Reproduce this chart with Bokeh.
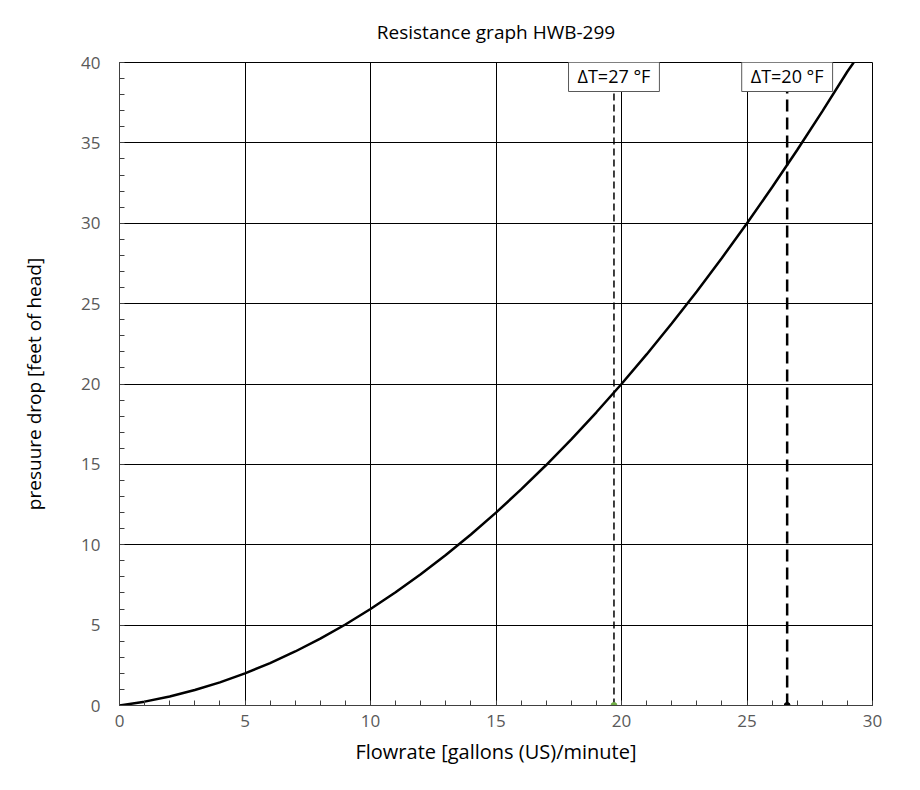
from bokeh.plotting import figure
from bokeh.models import SingleIntervalTicker, Label, Range1d
from bokeh.embed import file_html
from bokeh.resources import INLINE

# Resistance curve
flow = [0, 1, 2, 3, 4, 5, 6, 7, 8, 9, 10, 11, 12, 13, 14, 15, 16, 17, 18, 19,
        20, 21, 22, 23, 24, 25, 26, 27, 28, 29, 29.25]
pressure = [0, 0.24, 0.56, 0.96, 1.44, 2.0, 2.64, 3.36, 4.16, 5.04, 6.0, 7.04,
            8.16, 9.36, 10.64, 12.0, 13.44, 14.96, 16.56, 18.24, 20.0, 21.84,
            23.76, 25.76, 27.84, 30.0, 32.24, 34.56, 36.96, 39.44, 40.0]

# Operating points (vertical markers)
marker_flow = [19.7, 26.6]
marker_labels = ["ΔT=27 °F", "ΔT=20 °F"]

FONT = "Open Sans"

p = figure(width=912, height=788, output_backend="svg", toolbar_location=None,
           x_range=Range1d(0, 30), y_range=Range1d(0, 40),
           min_border_left=119, min_border_right=40, min_border_top=62,
           min_border_bottom=83, title="Resistance graph HWB-299")

p.title.align = "center"
p.title.vertical_align = "top"
p.title.text_font = FONT
p.title.text_font_size = "19px"
p.title.text_font_style = "normal"
p.title.text_color = "#000000"
p.title.standoff = 32

p.outline_line_color = "black"
p.outline_line_width = 1

for ax in (p.xaxis[0], p.yaxis[0]):
    ax.ticker = SingleIntervalTicker(interval=5, num_minor_ticks=5)
    ax.major_tick_in = 0
    ax.major_tick_out = 0
    ax.minor_tick_in = 5
    ax.minor_tick_out = 0
    ax.minor_tick_line_color = "#404040"
    ax.axis_line_color = "#404040"
    ax.major_label_text_font = FONT
    ax.major_label_text_font_size = "17px"
    ax.major_label_text_color = "#595959"
    ax.axis_label_text_font = FONT
    ax.axis_label_text_font_style = "normal"
    ax.axis_label_text_color = "#000000"

p.xaxis.axis_label = "Flowrate [gallons (US)/minute]"
p.yaxis.axis_label = "presuure drop [feet of head]"
p.xaxis.axis_label_text_font_size = "20px"
p.yaxis.axis_label_text_font_size = "19px"
p.xaxis.major_label_standoff = 9
p.yaxis.major_label_standoff = 19
p.xaxis.axis_label_standoff = 8
p.yaxis.axis_label_standoff = 31

p.xgrid.grid_line_color = "black"
p.ygrid.grid_line_color = "black"
p.xgrid.grid_line_alpha = 1
p.ygrid.grid_line_alpha = 1

p.line(flow, pressure, line_color="black", line_width=2.5)

# vertical markers
p.line([marker_flow[0], marker_flow[0]], [0, 40], line_color="black",
       line_width=1.5, line_dash="7 4")
p.line([marker_flow[1], marker_flow[1]], [0, 40], line_color="black",
       line_width=2.5, line_dash="12 6")
p.scatter([marker_flow[0]], [0], size=6, color="#70ad47")
p.scatter([marker_flow[1]], [0], size=6, color="black")

for fx, txt in zip(marker_flow, marker_labels):
    p.add_layout(Label(x=fx, y=40, y_offset=3, text=txt, text_align="center",
                       text_baseline="top", text_font=FONT,
                       text_font_size="18px", text_color="black",
                       background_fill_color="white",
                       border_line_color="#595959", border_line_width=1,
                       padding=(9, 4)))

open("out.html", "w").write(file_html(p, INLINE))
